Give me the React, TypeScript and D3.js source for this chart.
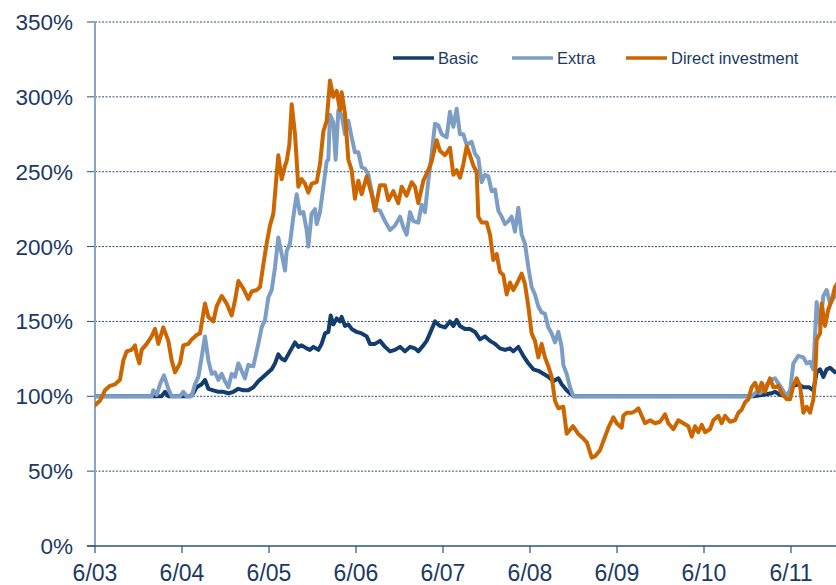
import React, { useEffect } from "react";
import * as d3 from "d3";

const seriesNames = ["Basic", "Extra", "Direct investment"];
const seriesColors = ["#123d6c", "#7d9ec4", "#cc6600"];

const yTicks = [0, 50, 100, 150, 200, 250, 300, 350];
const xTicks = [2003.5, 2004.5, 2005.5, 2006.5, 2007.5, 2008.5, 2009.5, 2010.5, 2011.5];
const xTickLabels = ["6/03", "6/04", "6/05", "6/06", "6/07", "6/08", "6/09", "6/10", "6/11"];

const basicData: [number, number][] = [
  [2003.5, 100], [2004.266, 100], [2004.305, 103], [2004.343, 100], [2004.592, 100], [2004.63, 102],
  [2004.669, 106], [2004.726, 108], [2004.764, 111], [2004.803, 105], [2004.86, 104], [2004.918, 103],
  [2004.975, 103], [2005.033, 102], [2005.09, 103], [2005.148, 105], [2005.205, 104], [2005.262, 104],
  [2005.32, 106], [2005.377, 110], [2005.435, 113], [2005.492, 116], [2005.531, 118], [2005.569, 122],
  [2005.607, 128], [2005.646, 125], [2005.684, 124], [2005.722, 128], [2005.761, 132], [2005.799, 136],
  [2005.837, 133], [2005.875, 134], [2005.933, 132], [2005.971, 131], [2006.01, 133], [2006.067, 131],
  [2006.105, 135], [2006.144, 142], [2006.182, 143], [2006.209, 154], [2006.239, 148], [2006.278, 152],
  [2006.316, 150], [2006.335, 153], [2006.373, 147], [2006.412, 148], [2006.45, 145], [2006.508, 143],
  [2006.565, 142], [2006.623, 140], [2006.661, 135], [2006.718, 135], [2006.776, 137], [2006.833, 133],
  [2006.891, 130], [2006.948, 131], [2007.006, 133], [2007.063, 130], [2007.121, 133], [2007.178, 132],
  [2007.216, 130], [2007.274, 134], [2007.312, 137], [2007.35, 142], [2007.408, 150], [2007.465, 147],
  [2007.523, 146], [2007.58, 150], [2007.619, 147], [2007.657, 151], [2007.695, 147], [2007.753, 145],
  [2007.81, 145], [2007.868, 143], [2007.925, 138], [2007.983, 140], [2008.04, 137], [2008.098, 135],
  [2008.155, 132], [2008.213, 131], [2008.27, 132], [2008.308, 130], [2008.366, 133], [2008.423, 127],
  [2008.481, 122], [2008.538, 118], [2008.596, 117], [2008.653, 115], [2008.711, 113], [2008.768, 110],
  [2008.826, 112], [2008.864, 108], [2008.921, 104], [2008.979, 101], [2009.0, 100], [2011.067, 100],
  [2011.182, 101], [2011.278, 102], [2011.316, 103], [2011.374, 101], [2011.451, 100], [2011.527, 107],
  [2011.584, 108], [2011.642, 106], [2011.709, 106], [2011.757, 104], [2011.795, 116], [2011.834, 118],
  [2011.872, 113], [2011.91, 118], [2011.949, 119], [2012.006, 116], [2012.04, 117],
];

const extraData: [number, number][] = [
  [2003.5, 100], [2004.151, 100], [2004.17, 104], [2004.209, 101], [2004.247, 108], [2004.293, 114],
  [2004.343, 105], [2004.381, 100], [2004.477, 100], [2004.515, 103], [2004.554, 100], [2004.611, 100],
  [2004.649, 108], [2004.688, 113], [2004.726, 126], [2004.764, 140], [2004.803, 124], [2004.841, 115],
  [2004.879, 116], [2004.918, 111], [2004.956, 115], [2004.994, 110], [2005.033, 106], [2005.071, 115],
  [2005.109, 113], [2005.148, 122], [2005.186, 117], [2005.224, 112], [2005.262, 121], [2005.32, 120],
  [2005.377, 135], [2005.416, 146], [2005.454, 151], [2005.492, 166], [2005.531, 171], [2005.569, 186],
  [2005.607, 206], [2005.646, 195], [2005.684, 184], [2005.703, 197], [2005.741, 202], [2005.78, 220],
  [2005.818, 235], [2005.856, 222], [2005.895, 223], [2005.933, 211], [2005.952, 200], [2005.99, 222],
  [2006.029, 225], [2006.048, 215], [2006.086, 223], [2006.125, 240], [2006.163, 257], [2006.182, 258],
  [2006.201, 288], [2006.239, 283], [2006.266, 258], [2006.297, 291], [2006.335, 288], [2006.373, 275],
  [2006.412, 284], [2006.45, 273], [2006.488, 263], [2006.527, 263], [2006.565, 253], [2006.603, 252],
  [2006.642, 248], [2006.68, 237], [2006.718, 225], [2006.776, 224], [2006.833, 217], [2006.891, 211],
  [2006.948, 214], [2007.006, 220], [2007.044, 213], [2007.082, 208], [2007.121, 223], [2007.159, 217],
  [2007.216, 216], [2007.255, 228], [2007.293, 223], [2007.331, 244], [2007.37, 262], [2007.408, 282],
  [2007.446, 281], [2007.485, 275], [2007.542, 273], [2007.58, 290], [2007.619, 280], [2007.657, 292],
  [2007.695, 275], [2007.734, 275], [2007.772, 268], [2007.829, 270], [2007.868, 262], [2007.906, 259],
  [2007.944, 243], [2007.983, 248], [2008.021, 247], [2008.059, 237], [2008.098, 238], [2008.136, 224],
  [2008.174, 220], [2008.213, 215], [2008.251, 217], [2008.289, 220], [2008.327, 210], [2008.366, 226],
  [2008.404, 208], [2008.442, 202], [2008.481, 186], [2008.519, 173], [2008.557, 168], [2008.596, 160],
  [2008.634, 156], [2008.672, 155], [2008.711, 146], [2008.749, 142], [2008.787, 136], [2008.826, 143],
  [2008.864, 133], [2008.883, 121], [2008.921, 115], [2008.96, 106], [2008.998, 100], [2011.048, 100],
  [2011.106, 103], [2011.144, 102], [2011.201, 106], [2011.259, 111], [2011.316, 112], [2011.374, 107],
  [2011.451, 100], [2011.489, 103], [2011.527, 122], [2011.584, 127], [2011.642, 126], [2011.68, 122],
  [2011.719, 123], [2011.757, 118], [2011.795, 163], [2011.834, 147], [2011.872, 167], [2011.91, 171],
  [2011.949, 162], [2012.006, 167], [2012.04, 170],
];

const directData: [number, number][] = [
  [2003.5, 94], [2003.557, 97], [2003.615, 104], [2003.672, 107], [2003.73, 108], [2003.787, 111],
  [2003.826, 124], [2003.864, 130], [2003.921, 131], [2003.96, 134], [2003.979, 128], [2004.01, 122],
  [2004.036, 131], [2004.094, 135], [2004.151, 140], [2004.19, 145], [2004.228, 135], [2004.285, 146],
  [2004.343, 137], [2004.381, 124], [2004.42, 116], [2004.477, 122], [2004.515, 134], [2004.573, 135],
  [2004.611, 138], [2004.669, 141], [2004.707, 142], [2004.764, 162], [2004.803, 153], [2004.86, 150],
  [2004.898, 160], [2004.956, 167], [2005.013, 162], [2005.071, 154], [2005.109, 164], [2005.148, 177],
  [2005.205, 172], [2005.262, 165], [2005.301, 170], [2005.358, 171], [2005.397, 173], [2005.435, 188],
  [2005.473, 202], [2005.511, 214], [2005.55, 222], [2005.588, 248], [2005.607, 261], [2005.646, 245],
  [2005.684, 254], [2005.703, 257], [2005.734, 268], [2005.761, 295], [2005.799, 275], [2005.837, 240],
  [2005.875, 245], [2005.914, 242], [2005.952, 236], [2005.99, 242], [2006.048, 243], [2006.086, 255],
  [2006.125, 277], [2006.163, 284], [2006.201, 311], [2006.239, 300], [2006.278, 304], [2006.316, 291],
  [2006.335, 303], [2006.373, 289], [2006.412, 258], [2006.45, 251], [2006.488, 232], [2006.527, 244],
  [2006.565, 235], [2006.623, 247], [2006.68, 235], [2006.718, 224], [2006.776, 241], [2006.833, 241],
  [2006.872, 231], [2006.929, 237], [2006.986, 229], [2007.025, 240], [2007.082, 234], [2007.14, 243],
  [2007.178, 240], [2007.216, 229], [2007.274, 244], [2007.331, 251], [2007.37, 257], [2007.427, 271],
  [2007.465, 264], [2007.523, 261], [2007.58, 266], [2007.619, 248], [2007.657, 251], [2007.695, 246],
  [2007.734, 255], [2007.772, 267], [2007.81, 261], [2007.849, 254], [2007.887, 250], [2007.906, 220],
  [2007.944, 216], [2008.002, 216], [2008.04, 208], [2008.078, 191], [2008.117, 195], [2008.155, 183],
  [2008.193, 181], [2008.232, 168], [2008.27, 176], [2008.308, 171], [2008.347, 175], [2008.404, 182],
  [2008.442, 175], [2008.481, 160], [2008.519, 142], [2008.557, 137], [2008.596, 126], [2008.634, 135],
  [2008.672, 126], [2008.711, 120], [2008.749, 113], [2008.787, 97], [2008.826, 92], [2008.883, 93],
  [2008.922, 75], [2008.994, 80], [2009.052, 75], [2009.109, 72], [2009.155, 69], [2009.209, 59],
  [2009.247, 60], [2009.305, 64], [2009.362, 73], [2009.401, 79], [2009.458, 86], [2009.497, 82],
  [2009.554, 79], [2009.573, 87], [2009.611, 89], [2009.669, 89], [2009.707, 90], [2009.746, 92],
  [2009.784, 87], [2009.822, 82], [2009.88, 84], [2009.937, 82], [2009.995, 83], [2010.052, 88],
  [2010.09, 82], [2010.148, 78], [2010.205, 84], [2010.263, 82], [2010.32, 80], [2010.359, 73],
  [2010.397, 80], [2010.435, 76], [2010.474, 81], [2010.512, 76], [2010.569, 78], [2010.608, 84],
  [2010.665, 87], [2010.703, 82], [2010.742, 87], [2010.799, 83], [2010.857, 84], [2010.895, 89],
  [2010.933, 91], [2010.972, 96], [2011.01, 98], [2011.048, 106], [2011.087, 109], [2011.125, 103],
  [2011.163, 109], [2011.201, 103], [2011.259, 112], [2011.297, 106], [2011.355, 107], [2011.393, 102],
  [2011.451, 98], [2011.489, 98], [2011.527, 107], [2011.565, 112], [2011.604, 107], [2011.642, 89],
  [2011.68, 93], [2011.719, 89], [2011.757, 98], [2011.776, 111], [2011.795, 138], [2011.834, 142],
  [2011.853, 162], [2011.891, 147], [2011.929, 158], [2011.968, 164], [2012.006, 173], [2012.04, 176],
];

const seriesData = [basicData, extraData, directData];

const W = 836;
const H = 585;
const FONT = "'Liberation Sans', Arial, sans-serif";
const TEXT = "#1a3a64";

export default function App() {
  useEffect(() => {
    document.body.style.margin = "0";
    document.body.style.overflow = "hidden";
  }, []);

  const x = d3.scaleLinear().domain([2003.5, 2011.5]).range([95, 95 + 87 * 8]);
  const y = d3.scaleLinear().domain([0, 350]).range([546, 22]);
  const line = d3
    .line<[number, number]>()
    .x((d) => x(d[0]))
    .y((d) => y(d[1]));

  const legendX = [393, 512, 626];

  return (
    <svg width={W} height={H} style={{ display: "block", background: "#fff" }} fontFamily={FONT}>
      <defs>
        <clipPath id="plot">
          <rect x={95} y={0} width={W - 95} height={546} />
        </clipPath>
      </defs>
      {yTicks.filter((t) => t > 0).map((t) => (
        <line key={"g" + t} x1={95} x2={W} y1={y(t)} y2={y(t)} stroke="#2c4d7a" strokeWidth={1} strokeDasharray="2,1.5" />
      ))}
      {yTicks.map((t) => (
        <line key={"t" + t} x1={87} x2={95} y1={y(t)} y2={y(t)} stroke="#2c4d7a" strokeWidth={1} />
      ))}
      {yTicks.map((t) => (
        <text key={"l" + t} x={73} y={y(t) + 8} textAnchor="end" fontSize={22.5} fill={TEXT}>
          {t + "%"}
        </text>
      ))}
      <line x1={95} x2={95} y1={y(350)} y2={546} stroke="#89a5c6" strokeWidth={2} />
      <g clipPath="url(#plot)">
        {seriesData.map((d, i) => (
          <path key={i} d={line(d) || ""} fill="none" stroke={seriesColors[i]} strokeWidth={4} strokeLinejoin="round" strokeLinecap="round" />
        ))}
      </g>
      <line x1={87} x2={W} y1={546} y2={546} stroke="#2a5087" strokeWidth={1.5} />
      {xTicks.map((t, i) => (
        <g key={"x" + t}>
          <line x1={x(t)} x2={x(t)} y1={546} y2={553} stroke="#2a5087" strokeWidth={1.2} />
          <text x={x(t)} y={581} textAnchor="middle" fontSize={23} fill={TEXT}>
            {xTickLabels[i]}
          </text>
        </g>
      ))}
      {seriesNames.map((n, i) => (
        <g key={n}>
          <line x1={legendX[i]} x2={legendX[i] + 41} y1={58} y2={58} stroke={seriesColors[i]} strokeWidth={3.5} />
          <text x={legendX[i] + 45} y={64} fontSize={16.5} fill={TEXT}>
            {n}
          </text>
        </g>
      ))}
    </svg>
  );
}
